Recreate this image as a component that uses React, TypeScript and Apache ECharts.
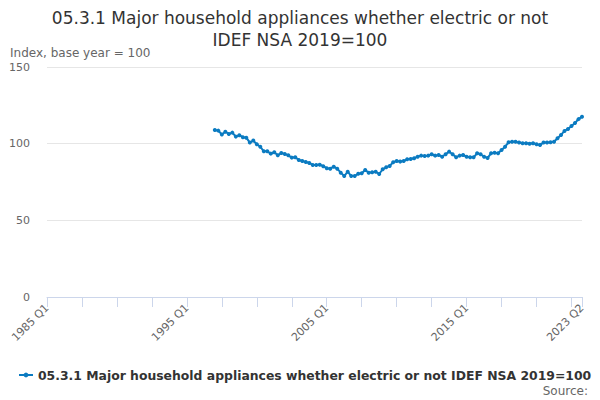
import React, { useEffect, useRef } from "react";
import * as echarts from "echarts";

const TITLE = "05.3.1 Major household appliances whether electric or not\nIDEF NSA 2019=100";
const SERIES_NAME = "05.3.1 Major household appliances whether electric or not IDEF NSA 2019=100";
const Y_NAME = "Index, base year = 100";

const FIRST_YEAR = 1985;
const LAST_YEAR = 2023;
const LAST_QUARTER = 2;
const QUARTERS = ["Q1", "Q2", "Q3", "Q4"];

// quarterly values from 1997 Q1 to 2023 Q2
const DATA_START = "1997 Q1";
const values = [
  108.9, 108.5, 106.0, 107.8, 106.3, 107.2, 104.6, 105.5, 104.2, 103.9,
  100.7, 102.0, 99.6, 98.0, 95.0, 95.0, 93.5, 94.4, 92.4, 93.9,
  93.3, 92.4, 90.9, 91.1, 89.4, 88.7, 88.1, 87.4, 86.1, 86.1,
  86.3, 85.3, 84.0, 83.7, 85.0, 83.7, 81.1, 78.9, 81.7, 78.9,
  78.9, 80.4, 80.7, 82.8, 81.1, 81.3, 81.7, 80.2, 83.3, 84.6,
  85.5, 87.9, 88.7,
  88.3, 88.7, 89.8, 90.0, 90.5, 91.5, 92.2, 92.0, 92.2, 93.1,
  92.2, 92.6, 91.5, 93.1, 94.8, 93.1, 91.1, 92.2, 92.6, 91.5,
  91.1, 91.1, 93.7, 93.1, 91.5, 90.7, 93.7, 94.1, 93.7, 95.9,
  98.0, 100.9, 101.3, 101.3, 100.7, 100.3, 100.3, 100.0, 100.3, 99.6,
  99.2, 100.7, 100.7, 100.9, 101.3, 103.5, 105.7, 108.3, 109.6, 111.5,
  113.5, 116.0, 117.6,
];

const categories: string[] = [];
for (let y = FIRST_YEAR; y <= LAST_YEAR; y++) {
  for (let q = 0; q < 4; q++) {
    if (y === LAST_YEAR && q >= LAST_QUARTER) break;
    categories.push(`${y} ${QUARTERS[q]}`);
  }
}

export default function App() {
  const ref = useRef<HTMLDivElement>(null);
  useEffect(() => {
    if (!ref.current) return;
    const chart = echarts.init(ref.current, undefined, { renderer: "svg" });
    const start = categories.indexOf(DATA_START);
    const last = categories.length - 1;
    const font = "DejaVu Sans";
    chart.setOption({
      animation: false,
      textStyle: { fontFamily: font },
      title: {
        text: TITLE,
        left: "center",
        top: 2,
        textStyle: { fontSize: 17, fontWeight: "normal", color: "#333333", fontFamily: font, lineHeight: 22 },
      },
      grid: { left: 47, right: 18, top: 67, bottom: 103, containLabel: false },
      xAxis: {
        type: "category",
        data: categories,
        boundaryGap: false,
        axisLine: { lineStyle: { color: "#ccd6eb", width: 1 } },
        axisTick: {
          show: true,
          length: 10,
          lineStyle: { color: "#ccd6eb" },
          interval: (i: number) => i % 10 === 0 || i === last,
        },
        axisLabel: {
          rotate: 45,
          color: "#666666",
          fontSize: 11,
          fontFamily: font,
          margin: 9,
          interval: (i: number) => i % 40 === 0 || i === last,
        },
        splitLine: { show: false },
      },
      yAxis: {
        type: "value",
        min: 0,
        max: 150,
        interval: 50,
        name: Y_NAME,
        nameLocation: "end",
        nameGap: 8,
        nameTextStyle: { align: "left", color: "#666666", fontSize: 12, fontFamily: font, padding: [0, 0, 0, -37] },
        axisLine: { show: false },
        axisTick: { show: false },
        axisLabel: { color: "#666666", fontSize: 11, fontFamily: font, margin: 17 },
        splitLine: { lineStyle: { color: "#e6e6e6" } },
      },
      legend: {
        top: 364,
        left: 13,
        itemWidth: 14,
        itemHeight: 6,
        itemGap: 4,
        textStyle: { fontSize: 12.4, fontWeight: "bold", color: "#333333", fontFamily: font },
        data: [SERIES_NAME],
      },
      graphic: [
        {
          type: "text",
          right: 12,
          top: 385,
          style: { text: "Source:", fill: "#666666", fontSize: 12, fontFamily: font },
        },
      ],
      series: [
        {
          name: SERIES_NAME,
          type: "line",
          data: values.map((v, i) => [categories[start + i], v]),
          color: "#0b7bc1",
          lineStyle: { width: 2 },
          symbol: "circle",
          symbolSize: 4,
          showSymbol: true,
          showAllSymbol: true,
        },
      ],
    });
    return () => chart.dispose();
  }, []);
  return <div ref={ref} style={{ position: "absolute", left: 0, top: 0, width: 600, height: 400 }} />;
}
